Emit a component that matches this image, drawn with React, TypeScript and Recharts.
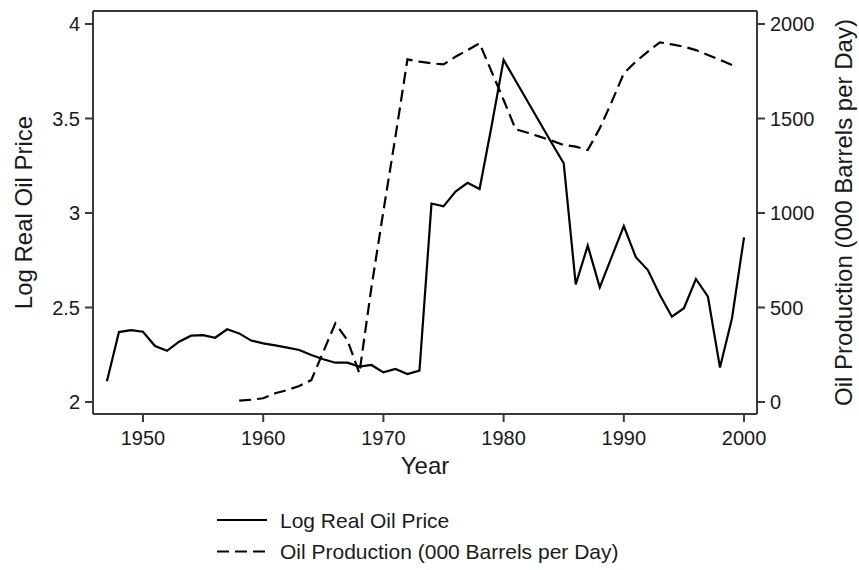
import React from "react";
import { LineChart, Line, XAxis, YAxis, Legend, Label, ReferenceLine } from "recharts";

const years = [
  1947, 1948, 1949, 1950, 1951, 1952, 1953, 1954, 1955, 1956, 1957, 1958, 1959,
  1960, 1961, 1962, 1963, 1964, 1965, 1966, 1967, 1968, 1969, 1970, 1971, 1972,
  1973, 1974, 1975, 1976, 1977, 1978, 1979, 1980, 1981, 1982, 1983, 1984, 1985,
  1986, 1987, 1988, 1989, 1990, 1991, 1992, 1993, 1994, 1995, 1996, 1997, 1998,
  1999, 2000,
];

const logPrice = [
  2.11, 2.37, 2.38, 2.372, 2.296, 2.271, 2.319, 2.351, 2.354, 2.34, 2.385, 2.363, 2.325,
  2.31, 2.3, 2.288, 2.275, 2.249, 2.226, 2.208, 2.208, 2.187, 2.196, 2.157, 2.175, 2.148,
  2.166, 3.05, 3.035, 3.113, 3.16, 3.127, 3.46, 3.81, 3.7, 3.59, 3.48, 3.37, 3.263,
  2.622, 2.827, 2.607, 2.769, 2.931, 2.766, 2.698, 2.566, 2.451, 2.496, 2.651, 2.557, 2.182,
  2.443, 2.871,
];

const prodYears = [
  1958, 1959, 1960, 1961, 1962, 1963, 1964, 1965, 1966, 1967, 1968, 1969, 1970, 1971,
  1972, 1973, 1974, 1975, 1976, 1977, 1978, 1979, 1980, 1981, 1982, 1983, 1984, 1985,
  1986, 1987, 1988, 1989, 1990, 1991, 1992, 1993, 1994, 1995, 1996, 1997, 1998, 1999,
];

const production = [
  7, 12, 20, 46, 63, 85, 116, 266, 416, 328, 152, 605, 1010, 1404,
  1813, 1801, 1792, 1786, 1827, 1862, 1898, 1748, 1598, 1443, 1425, 1404, 1383, 1360,
  1351, 1333, 1448, 1589, 1739, 1801, 1854, 1903, 1892, 1880, 1862, 1836, 1810, 1783,
];

const xTicks = [1950, 1960, 1970, 1980, 1990, 2000];
const leftTicks = [2, 2.5, 3, 3.5, 4];
const rightTicks = [0, 500, 1000, 1500, 2000];
const xDomain = [1945.84, 2001.08];
const leftDomain = [1.9365, 4.0688];
const rightDomain = [-63.5, 2068.8];

const data = years.map((y, i) => {
  const j = prodYears.indexOf(y);
  return { year: y, price: logPrice[i], prod: j >= 0 ? production[j] : undefined };
});

const FONT = "'Liberation Sans', Arial, Helvetica, sans-serif";
const AXIS = "#3a3a3a";
const TXT = "#1a1a1a";

const LegendContent = (props: any) => {
  const payload = props.payload || [];
  return (
    <svg width={859} height={70} style={{ display: "block" }}>
      {payload.map((p: any, i: number) => {
        const cy = 20 + i * 31.5;
        const dash = p.payload && p.payload.strokeDasharray;
        return (
          <g key={i}>
            <line x1={217} x2={267} y1={cy} y2={cy} stroke="#000" strokeWidth={2} strokeDasharray={dash} />
            <text x={280} y={cy} dy="0.36em" fontSize={21} fontFamily={FONT} fill={TXT}>
              {p.value}
            </text>
          </g>
        );
      })}
    </svg>
  );
};

export default function App() {
  return (
    <div style={{ position: "absolute", left: 0, top: 0, background: "#fff" }}>
      <LineChart
        width={859}
        height={570}
        data={data}
        margin={{ top: 11, right: 0, bottom: 0, left: 0 }}
        style={{ fontFamily: FONT }}
      >
        <XAxis
          dataKey="year"
          type="number"
          domain={xDomain}
          allowDataOverflow
          ticks={xTicks}
          interval={0}
          height={86}
          tickSize={8}
          tickMargin={9}
          stroke={AXIS}
          strokeWidth={2}
          tick={{ fontSize: 20, fill: TXT, fontFamily: FONT }}
        >
          <Label value="Year" position="insideBottom" offset={26} fontSize={24} fill={TXT} fontFamily={FONT} />
        </XAxis>
        <YAxis
          yAxisId="left"
          type="number"
          domain={leftDomain}
          allowDataOverflow
          ticks={leftTicks}
          interval={0}
          width={93}
          tickSize={8}
          tickMargin={5}
          stroke={AXIS}
          strokeWidth={2}
          tick={{ fontSize: 20, fill: TXT, fontFamily: FONT }}
        >
          <Label
            value="Log Real Oil Price"
            angle={-90}
            position="insideLeft"
            offset={23}
            fontSize={24}
            fill={TXT}
            fontFamily={FONT}
            style={{ textAnchor: "middle" }}
          />
        </YAxis>
        <YAxis
          yAxisId="right"
          orientation="right"
          type="number"
          domain={rightDomain}
          allowDataOverflow
          ticks={rightTicks}
          interval={0}
          width={102}
          tickSize={8}
          tickMargin={5}
          stroke={AXIS}
          strokeWidth={2}
          tick={{ fontSize: 20, fill: TXT, fontFamily: FONT }}
        >
          <Label
            value="Oil Production (000 Barrels per Day)"
            angle={-90}
            position="insideRight"
            offset={16}
            fontSize={24}
            fill={TXT}
            fontFamily={FONT}
            style={{ textAnchor: "middle" }}
          />
        </YAxis>
        <ReferenceLine yAxisId="left" y={leftDomain[1]} stroke={AXIS} strokeWidth={2} ifOverflow="visible" />
        <Line
          yAxisId="left"
          dataKey="price"
          name="Log Real Oil Price"
          stroke="#000"
          strokeWidth={2.2}
          dot={false}
          activeDot={false}
          isAnimationActive={false}
          strokeLinejoin="miter"
        />
        <Line
          yAxisId="right"
          dataKey="prod"
          name="Oil Production (000 Barrels per Day)"
          stroke="#000"
          strokeWidth={2.2}
          strokeDasharray="12 6"
          dot={false}
          activeDot={false}
          isAnimationActive={false}
          strokeLinejoin="miter"
        />
        <Legend
          verticalAlign="bottom"
          align="left"
          layout="horizontal"
          wrapperStyle={{ left: 0, bottom: 0, width: 859, height: 70 }}
          content={LegendContent}
        />
      </LineChart>
    </div>
  );
}
